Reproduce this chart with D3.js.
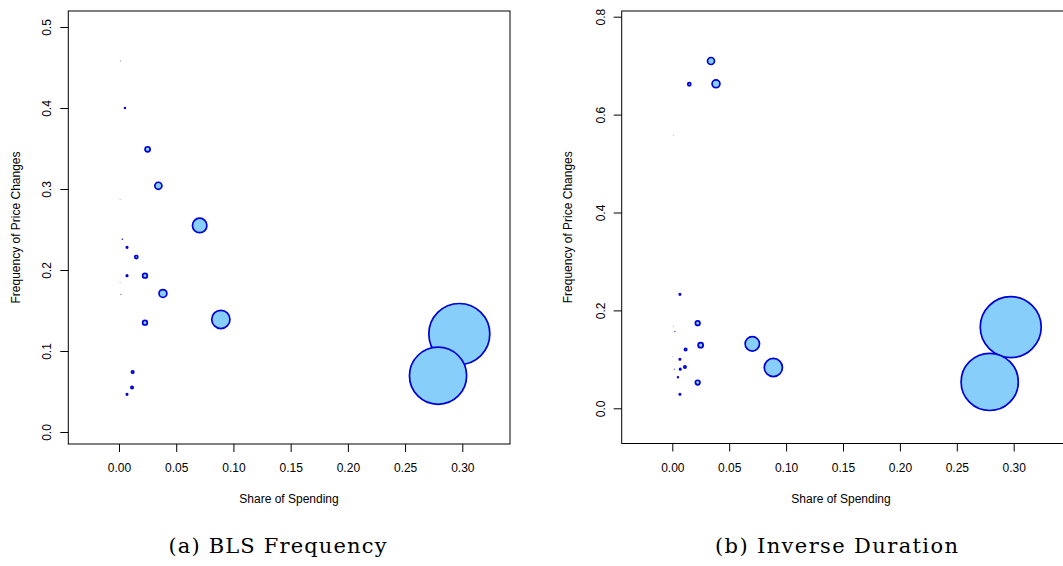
<!DOCTYPE html>
<head>
<style>
body { margin: 0; background: #fff; }
text { font-family: "Liberation Sans", Arial, sans-serif; fill: #000; }
.box { fill: none; stroke: #000; stroke-width: 1px; }
circle.bubble { fill: #87cefa; stroke: #0000d8; }
.caption { font-family: "DejaVu Serif", serif; font-size: 21px; }
</style>
<meta charset="utf-8">
<title></title>
</head>

<body>
<script src="https://cdn.jsdelivr.net/npm/d3@7"></script>
<script>

// panel (a): BLS frequency
var blsShare = [0.0012, 0.0052, 0.025, 0.0344, 0.0009, 0.0705, 0.0029, 0.007, 0.0151, 0.007, 0.0227,
                0.0009, 0.0017, 0.0384, 0.089, 0.0227, 0.0119, 0.0114, 0.0, 0.007, 0.2974, 0.2788];
var blsFreq  = [0.458, 0.400, 0.349, 0.304, 0.287, 0.255, 0.238, 0.228, 0.216, 0.193, 0.193,
                0.185, 0.170, 0.171, 0.139, 0.135, 0.074, 0.055, 0.049, 0.0465, 0.121, 0.0695];

// panel (b): inverse duration
var durShare = [0.034, 0.0149, 0.0384, 0.0009, 0.0067, 0.0223, 0.0009, 0.0023, 0.0249, 0.0117, 0.0006, 0.0067,
                0.0018, 0.007, 0.0111, 0.0, 0.005, 0.0223, 0.0067, 0.2974, 0.2789, 0.0703, 0.0888];
var durFreq  = [0.7095, 0.662, 0.663, 0.557, 0.2328, 0.174, 0.168, 0.157, 0.129, 0.120, 0.106, 0.1003,
                0.080, 0.080, 0.0846, 0.074, 0.0635, 0.0526, 0.0287, 0.1659, 0.0539, 0.1317, 0.0833];

var xTicks = [0, 0.05, 0.10, 0.15, 0.20, 0.25, 0.30];
var yTicksA = [0, 0.1, 0.2, 0.3, 0.4, 0.5];
var yTicksB = [0, 0.2, 0.4, 0.6, 0.8];

var width = 1063, height = 566;

var svg = d3.select("body").append("svg")
    .attr("width", width)
    .attr("height", height);

// bubble radius follows the share of spending
var rScale = d3.scaleLinear().domain([0, 0.3]).range([0, 30.75]);

var panels = [
  { share: blsShare, freq: blsFreq, yTicks: yTicksA,
    box: [68.3, 11, 510, 444],
    x: d3.scaleLinear().domain([0, 0.30]).range([119, 462.3]),
    y: d3.scaleLinear().domain([0, 0.5]).range([432, 27]),
    yTitleX: 19.5, xTitleX: 289, caption: "(a) BLS Frequency", capX: 277.5, capLen: 218 },
  { share: durShare, freq: durFreq, yTicks: yTicksB,
    box: [621.7, 11, 1066, 443.5],
    x: d3.scaleLinear().domain([0, 0.30]).range([672.3, 1013.7]),
    y: d3.scaleLinear().domain([0, 0.8]).range([408.3, 16.7]),
    yTitleX: 572, xTitleX: 841, caption: "(b) Inverse Duration", capX: 836.5, capLen: 243 }
];

panels.forEach(function(p) {
  var g = svg.append("g");
  var b = p.box;

  // points, big ones first so small ones stay visible
  var pts = p.share.map(function(s, i) { return {s: s, f: p.freq[i]}; })
      .sort(function(a, c) { return c.s - a.s; });

  g.selectAll("circle.bubble")
      .data(pts)
      .enter().append("circle")
      .attr("class", "bubble")
      .attr("cx", d => p.x(d.s))
      .attr("cy", d => p.y(d.f))
      .attr("r", d => rScale(d.s))
      .style("stroke-width", d => Math.min(1.7, 0.5 + 1.8 * rScale(d.s)));

  // frame
  g.append("rect")
      .attr("class", "box")
      .attr("x", b[0]).attr("y", b[1])
      .attr("width", b[2] - b[0]).attr("height", b[3] - b[1]);

  // x axis
  var xa = g.append("g")
      .attr("transform", "translate(0," + b[3] + ")")
      .call(d3.axisBottom(p.x).tickValues(xTicks).tickSize(8).tickFormat(d3.format(".2f")));
  xa.select(".domain").remove();
  xa.selectAll("text").attr("y", 28).attr("dy", 0)
      .style("font-size", "12px").style("font-family", "Liberation Sans, Arial, sans-serif");

  // y axis with rotated labels
  var ya = g.append("g")
      .attr("transform", "translate(" + b[0] + ",0)")
      .call(d3.axisLeft(p.y).tickValues(p.yTicks).tickSize(8).tickFormat(d3.format(".1f")));
  ya.select(".domain").remove();
  ya.selectAll("text")
      .attr("transform", "rotate(-90)")
      .attr("x", 0).attr("y", -17).attr("dy", 0)
      .attr("text-anchor", "middle")
      .style("font-size", "12px").style("font-family", "Liberation Sans, Arial, sans-serif");

  // titles
  g.append("text")
      .attr("x", p.xTitleX).attr("y", 503)
      .attr("text-anchor", "middle")
      .style("font-size", "12px")
      .text("Share of Spending");

  g.append("text")
      .attr("transform", "translate(" + p.yTitleX + "," + ((b[1] + b[3]) / 2) + ") rotate(-90)")
      .attr("text-anchor", "middle")
      .style("font-size", "12px")
      .text("Frequency of Price Changes");

  svg.append("text")
      .attr("class", "caption")
      .attr("x", p.capX).attr("y", 553)
      .attr("text-anchor", "middle")
      .attr("textLength", p.capLen)
      .attr("lengthAdjust", "spacing")
      .text(p.caption);
});

</script>
</body>
</html>
